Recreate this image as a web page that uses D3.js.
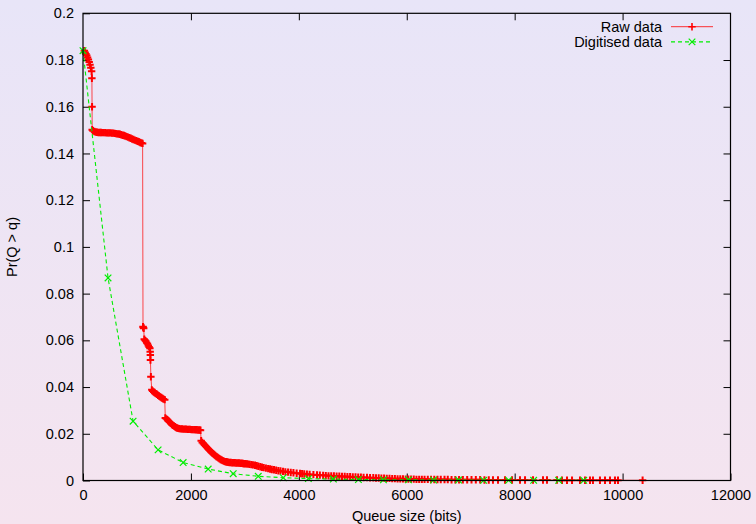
<!DOCTYPE html>
<html><head><meta charset="utf-8">
<script src="https://cdn.jsdelivr.net/npm/d3@7"></script>
<style>body{margin:0;background:#fff}svg{display:block}</style>
</head><body>
<svg id="chart" width="756" height="524"></svg>
<script>
// ---------- data ----------
// Raw data: [queue size (bits), Pr(Q > q)]
const rawPoints = [
  [25,0.1840],[40,0.1832],[55,0.1826],[70,0.1819],[85,0.1811],[100,0.1802],[115,0.1792],[130,0.1780],[145,0.1767],[160,0.1752],[165,0.1722],[168,0.1600],[170,0.1502],
  [185,0.1497],[210,0.1494],[235,0.1492],[260,0.1491],[285,0.1490],[310,0.1490],[335,0.1490],[360,0.1489],[385,0.1489],[410,0.1489],[435,0.1488],[460,0.1488],[485,0.1488],[510,0.1488],[535,0.1487],[560,0.1487],[585,0.1486],[610,0.1485],[635,0.1484],[660,0.1483],[685,0.1482],[710,0.1480],[735,0.1478],[760,0.1477],[785,0.1475],[810,0.1472],[835,0.1470],[860,0.1467],[885,0.1465],[910,0.1462],[935,0.1460],[960,0.1457],[985,0.1455],[1010,0.1452],[1035,0.1450],[1060,0.1447],[1085,0.1445],[1105,0.1443],
  [1112,0.0658],[1118,0.0655],[1125,0.0652],[1135,0.0605],[1150,0.0600],[1165,0.0596],[1180,0.0590],[1195,0.0585],[1210,0.0578],[1225,0.0572],[1240,0.0566],[1245,0.0551],[1248,0.0537],[1250,0.0516],[1258,0.0444],[1275,0.0388],
  [1290,0.0383],[1310,0.0379],[1330,0.0375],[1350,0.0372],[1370,0.0369],[1390,0.0365],[1410,0.0362],[1430,0.0358],[1450,0.0355],[1470,0.0352],[1490,0.0349],[1515,0.0346],
  [1525,0.0268],[1545,0.0264],[1565,0.0260],[1585,0.0255],[1605,0.0250],[1625,0.0245],[1645,0.0240],[1665,0.0236],[1685,0.0233],[1705,0.0230],[1725,0.0227],[1745,0.0225],[1765,0.0223],[1785,0.0222],
  [1810,0.0221],[1835,0.0221],[1860,0.0220],[1885,0.0220],[1910,0.0220],[1935,0.0219],[1960,0.0219],[1985,0.0219],[2010,0.0218],[2035,0.0218],[2060,0.0218],[2085,0.0217],[2110,0.0217],[2135,0.0216],[2160,0.0216],[2178,0.0215],
  [2190,0.0170],[2210,0.0163],[2230,0.0158],[2250,0.0153],[2270,0.0148],[2290,0.0143],[2310,0.0138],[2330,0.0133],[2350,0.0128],[2370,0.0123],[2390,0.0119],[2410,0.0115],[2430,0.0111],[2450,0.0107],[2470,0.0103],[2490,0.0100],[2510,0.0096],[2530,0.0093],[2550,0.0090],[2570,0.0088],[2590,0.0085],[2610,0.0083],[2630,0.0081],[2650,0.0080],[2670,0.0079],[2690,0.0078],
  [2715,0.0077],[2740,0.0077],[2765,0.0076],[2790,0.0076],[2815,0.0076],[2840,0.0075],[2865,0.0075],[2890,0.0075],[2915,0.0074],[2940,0.0074],[2965,0.0073],[2990,0.0072],[3015,0.0072],[3040,0.0071],[3065,0.0070],[3090,0.0069],
  [3120,0.0068],[3150,0.0067],[3188,0.0065],[3220,0.0063],[3250,0.0061],[3285,0.0059],[3317,0.0057],[3350,0.0055],[3390,0.0053],[3430,0.0051],[3466,0.0049],[3500,0.0047],[3540,0.0046],[3580,0.0044],[3620,0.0042],[3660,0.0041],[3707,0.0039],[3750,0.0037],[3800,0.0036],[3850,0.0034],[3900,0.0033],[3960,0.0031],[4022,0.0030],[4060,0.0029],[4100,0.0028],[4150,0.0027],[4200,0.0026],[4270,0.0025],[4337,0.0024],[4390,0.0023],[4450,0.0022],[4500,0.0021],[4550,0.0020],[4600,0.0020],[4650,0.0019],[4700,0.0018],[4750,0.0018],[4800,0.0017],[4850,0.0017],[4900,0.0016],[4950,0.0016],
  [5000,0.0015],[5050,0.0015],[5100,0.0014],[5150,0.0014],[5200,0.0013],[5263,0.0013],[5320,0.0012],[5380,0.0012],[5430,0.0011],[5480,0.0011],[5530,0.0010],[5580,0.0010],[5630,0.0009],[5680,0.0009],[5730,0.0008],[5780,0.0008],[5830,0.0007],[5880,0.0007],[5930,0.0007],[5980,0.0006],[6030,0.0006],[6080,0.0006],[6130,0.0006],[6180,0.0005],[6230,0.0005],[6280,0.0005],[6330,0.0005],[6390,0.0005],[6450,0.0004],[6510,0.0004],[6570,0.0004],[6630,0.0004],[6700,0.0004],[6760,0.0004],[6830,0.0003],[6900,0.0003],[6970,0.0003],[7040,0.0003],[7120,0.0003],[7200,0.0003],[7280,0.0003],[7360,0.0003],[7440,0.0002],[7520,0.0002],
  [7598,0.0002],[7691,0.0002],[7821,0.0002],[7951,0.0002],[8099,0.0002],[8192,0.0002],[8340,0.0002],[8525,0.0002],[8599,0.0002],[8785,0.0002],[8877,0.0001],[8970,0.0001],[9063,0.0001],[9211,0.0001],[9304,0.0001],[9396,0.0001],[9451,0.0001],[9581,0.0001],[9674,0.0001],[9767,0.0001],[9859,0.0001],[9915,0.0001],[10371,0.0001]
];

const digQ = [0,464,928,1392,1856,2320,2784,3248,3712,4176,4640,5104,5568,6032,6496,6960,7424,7888,8352,8816,9280];
const digP = [0.1840,0.0867,0.0254,0.0131,0.0077,0.0049,0.0029,0.0018,0.0012,0.0008,0.0006,0.0004,0.0003,0.0003,0.0002,0.0002,0.0001,0.0001,0.0001,0.0001,0.0001];

const xTickValues = [0,2000,4000,6000,8000,10000,12000];
const xTickLabels = ["0","2000","4000","6000","8000","10000","12000"];
const yTickValues = [0,0.02,0.04,0.06,0.08,0.1,0.12,0.14,0.16,0.18,0.2];
const yTickLabels = ["0","0.02","0.04","0.06","0.08","0.1","0.12","0.14","0.16","0.18","0.2"];

const seriesNames = ["Raw data","Digitised data"];
const xTitle = "Queue size (bits)";
const yTitle = "Pr(Q > q)";

// ---------- layout ----------
const W = 756, H = 524;
const L = 83, R = 730.5, T = 13.3, B = 480.5;
const FONT = "'Liberation Sans', Arial, Helvetica, sans-serif";
const FS = 14.5;
const TICK = 7;

const svg = d3.select("#chart");
const defs = svg.append("defs");
const grad = defs.append("linearGradient").attr("id","bg").attr("x1",0).attr("y1",0).attr("x2",0).attr("y2",1);
grad.append("stop").attr("offset","0%").attr("stop-color","#e8e5f8");
grad.append("stop").attr("offset","100%").attr("stop-color","#f5e4ef");
svg.append("rect").attr("width",W).attr("height",H).attr("fill","url(#bg)");

const x = d3.scaleLinear().domain([0,12000]).range([L,R]);
const y = d3.scaleLinear().domain([0,0.2]).range([B,T]);

function styleAxis(g){
  g.select(".domain").remove();
  g.selectAll(".tick line").attr("stroke","#000").attr("stroke-width",1);
  g.selectAll("text").attr("font-family",FONT).attr("font-size",FS).attr("fill","#000");
}

svg.append("g").attr("transform",`translate(0,${B})`)
  .call(d3.axisBottom(x).tickValues(xTickValues).tickFormat((d,i)=>xTickLabels[i]).tickSizeInner(-TICK).tickSizeOuter(0).tickPadding(9))
  .call(styleAxis);
svg.append("g").attr("transform",`translate(0,${T})`)
  .call(d3.axisTop(x).tickValues(xTickValues.slice(1,-1)).tickFormat("").tickSizeInner(-TICK).tickSizeOuter(0))
  .call(styleAxis);
svg.append("g").attr("transform",`translate(${L},0)`)
  .call(d3.axisLeft(y).tickValues(yTickValues).tickFormat((d,i)=>yTickLabels[i]).tickSizeInner(-TICK).tickSizeOuter(0).tickPadding(9))
  .call(styleAxis);
svg.append("g").attr("transform",`translate(${R},0)`)
  .call(d3.axisRight(y).tickValues(yTickValues.slice(1,-1)).tickFormat("").tickSizeInner(-TICK).tickSizeOuter(0))
  .call(styleAxis);

// ---------- series ----------
const dig = digQ.map((q,i)=>[q,digP[i]]);
const line = d3.line().x(d=>x(d[0])).y(d=>y(d[1]));
const plot = svg.append("g");

const RED = "#ff0000", GREEN = "#00ee00";
const M = 3.7;
function plus(g, px, py, col, sw){
  g.append("path").attr("d",`M${px-M},${py}H${px+M}M${px},${py-M}V${py+M}`)
   .attr("stroke",col).attr("stroke-width",sw).attr("fill","none");
}
function cross(g, px, py, col, sw){
  const m = 3.3;
  g.append("path").attr("d",`M${px-m},${py-m}L${px+m},${py+m}M${px-m},${py+m}L${px+m},${py-m}`)
   .attr("stroke",col).attr("stroke-width",sw).attr("fill","none");
}

plot.append("path").datum(rawPoints).attr("d",line).attr("fill","none").attr("stroke",RED).attr("stroke-width",1).attr("stroke-opacity",0.7);
const rp = plot.append("g");
rawPoints.forEach(d=>plus(rp, x(d[0]), y(d[1]), RED, 2));

plot.append("path").datum(dig).attr("d",line).attr("fill","none").attr("stroke",GREEN).attr("stroke-width",1.1).attr("stroke-dasharray","4,3");
const gp = plot.append("g");
dig.forEach(d=>cross(gp, x(d[0]), y(d[1]), GREEN, 1.2));

svg.append("rect").attr("x",L).attr("y",T).attr("width",R-L).attr("height",B-T)
  .attr("fill","none").attr("stroke","#000").attr("stroke-width",1.2);

// ---------- legend ----------
const lg = svg.append("g").attr("font-family",FONT).attr("font-size",FS);
const legY = [26.7, 41.9];
const lx0 = 671, lx1 = 713, tx = 662;
lg.append("text").attr("x",tx).attr("y",legY[0]+5.2).attr("text-anchor","end").text(seriesNames[0]);
lg.append("line").attr("x1",lx0).attr("x2",lx1).attr("y1",legY[0]).attr("y2",legY[0]).attr("stroke",RED).attr("stroke-width",1).attr("stroke-opacity",0.8);
plus(lg,(lx0+lx1)/2,legY[0],RED,1.6);
lg.append("text").attr("x",tx).attr("y",legY[1]+5.2).attr("text-anchor","end").text(seriesNames[1]);
lg.append("line").attr("x1",lx0).attr("x2",lx1).attr("y1",legY[1]).attr("y2",legY[1]).attr("stroke",GREEN).attr("stroke-width",1.1).attr("stroke-dasharray","4,3");
cross(lg,(lx0+lx1)/2,legY[1],GREEN,1.2);

// ---------- titles ----------
svg.append("text").attr("x",(L+R)/2).attr("y",520.5).attr("text-anchor","middle")
  .attr("font-family",FONT).attr("font-size",FS).text(xTitle);
svg.append("text").attr("transform",`translate(17,247) rotate(-90)`).attr("text-anchor","middle")
  .attr("font-family",FONT).attr("font-size",FS).text(yTitle);
</script>
</body></html>
